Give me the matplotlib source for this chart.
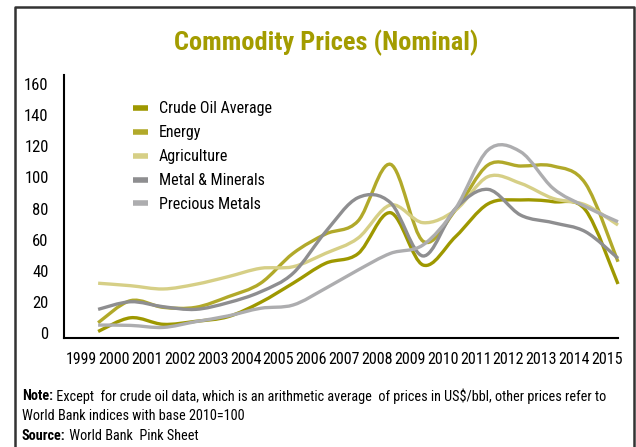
import matplotlib
matplotlib.use("Agg")
import matplotlib.pyplot as plt
import numpy as np
from matplotlib.path import Path
from matplotlib.patches import PathPatch
from matplotlib.lines import Line2D
from matplotlib import font_manager as fm

installed = {f.name for f in fm.fontManager.ttflist}


def pick(cands):
    for c in cands:
        if c in installed:
            return c
    return 'DejaVu Sans'


body_font = pick(['Roboto Condensed', 'Archivo Narrow', 'PT Sans Narrow', 'Liberation Sans Narrow',
                  'Asap Condensed', 'Barlow Condensed'])
title_font = pick(['Roboto Condensed', 'Archivo Narrow', 'Asap Condensed', 'Barlow Condensed'])
plt.rcParams['font.family'] = [body_font, 'DejaVu Sans']

years = list(range(1999, 2016))
crude_oil = [1, 9.8, 5.6, 7.5, 10.5, 19.7, 32, 44.8, 51, 77.3, 43.7, 61.9, 83, 85.5, 84.4, 79, 31.5]
energy = [6.6, 20.8, 16.5, 16.5, 23.3, 32, 51.2, 63.6, 72, 108.4, 59, 79, 108, 107.3, 107.3, 96, 45.8]
agriculture = [32, 30.4, 28.3, 31.3, 36.2, 41.6, 42.6, 51.2, 61, 82.3, 70.9, 79, 100.5, 96.2, 86.5, 82.3, 69.4]
metals = [15.2, 20.1, 16.9, 15.2, 19.5, 26.5, 38.4, 65, 87, 83.7, 49.5, 80, 92.3, 75.8, 70.9, 65.1, 48]
precious = [5.1, 4.9, 3.6, 7.3, 11, 15.9, 18, 28.7, 40.5, 51.2, 56.6, 80, 117.6, 116.5, 93, 81.2, 71.5]
yticks = [0, 20, 40, 60, 80, 100, 120, 140, 160]

series = [
    ("Crude Oil Average", crude_oil, "#9e9800"),
    ("Energy", energy, "#b1a92a"),
    ("Agriculture", agriculture, "#d6cf86"),
    ("Metal & Minerals", metals, "#8e8e90"),
    ("Precious Metals", precious, "#adadaf"),
]


def smooth_path(x, y):
    # cubic bezier through the points, like a spreadsheet "smoothed line"
    pts = np.column_stack([np.asarray(x, float), np.asarray(y, float)])
    verts = [pts[0]]
    codes = [Path.MOVETO]
    n = len(pts)
    for i in range(n - 1):
        p0 = pts[i - 1] if i > 0 else pts[i]
        p3 = pts[i + 2] if i + 2 < n else pts[i + 1]
        c1 = pts[i] + (pts[i + 1] - p0) / 6
        c2 = pts[i + 1] - (p3 - pts[i]) / 6
        verts += [c1, c2, pts[i + 1]]
        codes += [Path.CURVE4] * 3
    return Path(verts, codes)


fig = plt.figure(figsize=(6.36, 4.47), dpi=100)
ax = fig.add_axes([64 / 636, 1 - 338 / 447, (618 - 64) / 636, (338 - 75) / 447])

handles = []
for name, vals, color in series:
    patch = PathPatch(smooth_path(years, vals), facecolor='none', edgecolor=color,
                      lw=2.4, capstyle='butt', clip_on=False)
    ax.add_patch(patch)
    handles.append(Line2D([], [], color=color, lw=4, solid_capstyle='butt'))

ax.set_xlim(1999 - 1.05, 2015)
ax.set_ylim(-3.2, 165.8)

ax.spines['top'].set_visible(False)
ax.spines['right'].set_visible(False)
ax.spines['left'].set_linewidth(1.5)
ax.spines['bottom'].set_linewidth(1.5)

ax.set_yticks(yticks)
ax.set_yticklabels([str(v) for v in yticks])
# the year labels in the source sit a bit left of the data points
ax.set_xticks(np.linspace(1998.48, 2014.66, len(years)))
ax.set_xticklabels([str(y) for y in years])
ax.tick_params(axis='y', length=0, labelsize=12, pad=11)
ax.tick_params(axis='x', length=0, labelsize=11.5, pad=10)

ax.legend(handles, [s[0] for s in series], loc='upper left', bbox_to_anchor=(0.125, 0.9),
          frameon=False, fontsize=11.5, handlelength=0.95, handletextpad=0.65,
          labelspacing=0.56, borderaxespad=0, borderpad=0)

fig.text(326 / 636, 1 - 43 / 447, "Commodity Prices (Nominal)", ha='center', va='center',
         fontsize=19, fontweight='bold', color='#a39c00', family=[title_font, 'DejaVu Sans'])

fs = 10.3
note = fig.text(22 / 636, 1 - 396 / 447, "Note:", fontsize=fs, fontweight='bold', va='center')
ax.annotate(" Except  for crude oil data, which is an arithmetic average  of prices in US$/bbl, other prices refer to",
            xy=(1, 0.5), xycoords=note, va='center', fontsize=fs, annotation_clip=False)
fig.text(22 / 636, 1 - 416 / 447, "World Bank indices with base 2010=100", fontsize=fs, va='center')
src = fig.text(22 / 636, 1 - 436 / 447, "Source:", fontsize=fs, fontweight='bold', va='center')
ax.annotate(" World Bank  Pink Sheet", xy=(1, 0.5), xycoords=src, va='center', fontsize=fs,
            annotation_clip=False)

# frame round the graphic (open at the bottom)
fx = [15 / 636, 15 / 636, 634 / 636, 634 / 636]
fy = [0, 1 - 6.5 / 447, 1 - 6.5 / 447, 0]
fig.add_artist(Line2D(fx, fy, transform=fig.transFigure, color='#333333', lw=1.8))

fig.savefig("out.png", dpi=100)
